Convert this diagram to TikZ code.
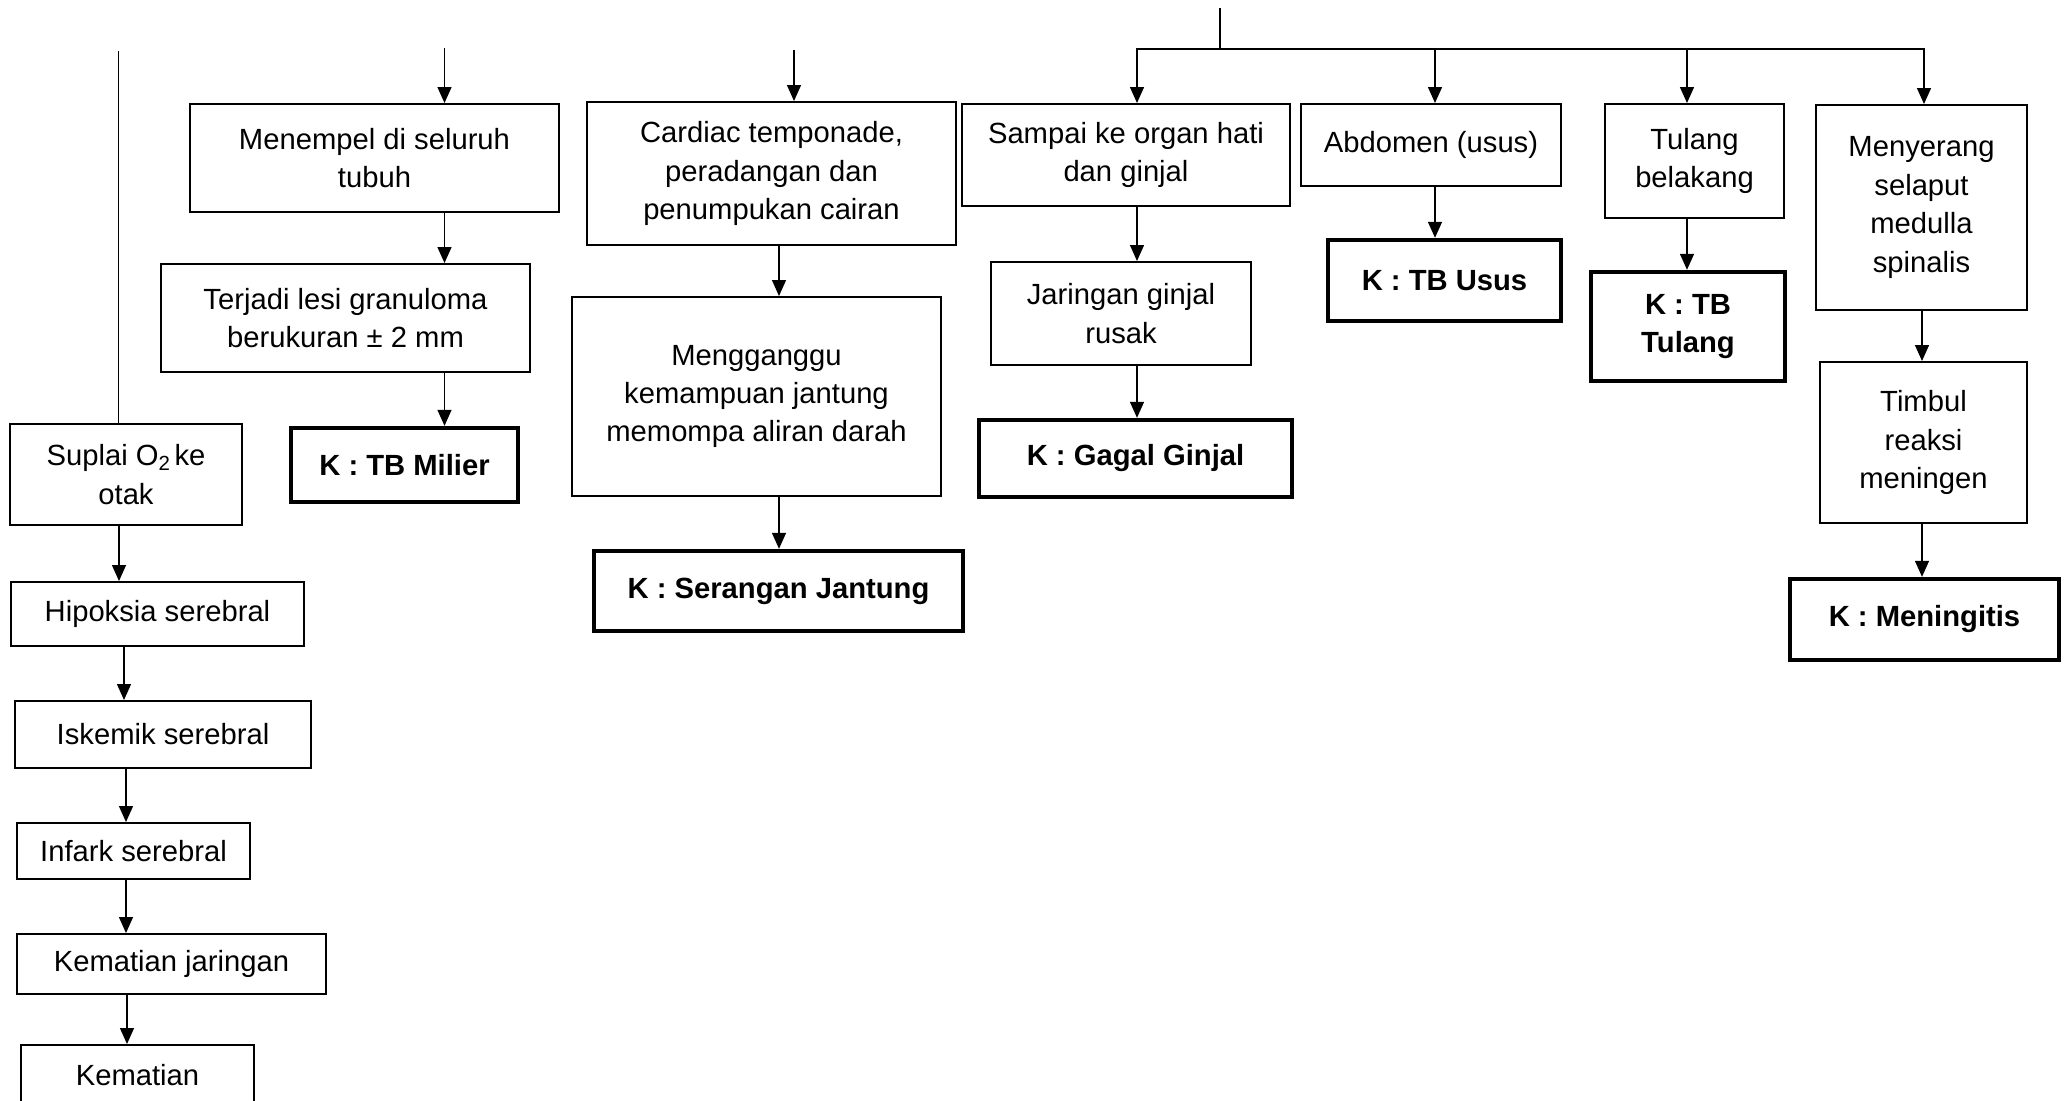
\documentclass[tikz,border=0pt]{standalone}
\usepackage{fontspec}
\setmainfont{Liberation Sans}
\usetikzlibrary{arrows.meta}
\newcommand{\dfont}{\fontsize{14.6}{19.2}\selectfont}
\begin{document}
\begin{tikzpicture}[x=0.5pt,y=-0.5pt,
  box/.style={draw, line width=1pt, inner sep=0pt, align=center, font=\dfont},
  kbox/.style={box, line width=2.2pt, font=\dfont\bfseries},
  arr/.style={line width=0.7pt, -{Triangle[length=8pt,width=7pt]}},
  ln/.style={line width=0.7pt}]
\fill[white] (0,0) rectangle (2069,1100);
\useasboundingbox (0,0) rectangle (2069,1100);

% left column
\node[box, minimum width=116pt, minimum height=50.5pt] (suplai) at (126,474.5) {Suplai O\textsubscript{2}\hspace{0.12em}ke\\otak};
\node[box, minimum width=146.5pt, minimum height=32pt] (hip) at (157.5,614) {Hipoksia serebral};
\node[box, minimum width=148pt, minimum height=33.5pt] (isk) at (163,734.5) {Iskemik serebral};
\node[box, minimum width=116.5pt, minimum height=28pt] (inf) at (133.5,851) {Infark serebral};
\node[box, minimum width=154.5pt, minimum height=30pt] (kj) at (171.5,964) {Kematian jaringan};
\node[box, minimum width=116.5pt, minimum height=30pt] (kem) at (137.5,1075) {Kematian};

% Menempel column
\node[box, minimum width=184.5pt, minimum height=54pt] (men) at (374.5,158) {Menempel di seluruh\\tubuh};
\node[box, minimum width=184.5pt, minimum height=54pt] (ter) at (345.5,318) {Terjadi lesi granuloma\\berukuran ± 2 mm};
\node[kbox, minimum width=113.5pt, minimum height=37pt] (mil) at (404.5,465) {K : TB Milier};

% Cardiac column
\node[box, minimum width=184.5pt, minimum height=71.5pt] (car) at (771.5,173.5) {Cardiac temponade,\\peradangan dan\\penumpukan cairan};
\node[box, minimum width=184.5pt, minimum height=99.5pt] (meng) at (756.5,396.5) {Mengganggu\\kemampuan jantung\\memompa aliran darah};
\node[kbox, minimum width=184.5pt, minimum height=40pt] (ser) at (778.5,591) {K : Serangan Jantung};

% tree branches
\node[box, minimum width=164pt, minimum height=51pt] (samp) at (1126,155) {Sampai ke organ hati\\dan ginjal};
\node[box, minimum width=130pt, minimum height=51.5pt] (jar) at (1121,313.5) {Jaringan ginjal\\rusak};
\node[kbox, minimum width=156.5pt, minimum height=38.5pt] (gag) at (1135.5,458.5) {K : Gagal Ginjal};

\node[box, minimum width=130pt, minimum height=41pt] (abd) at (1431,145) {Abdomen (usus)};
\node[kbox, minimum width=116.5pt, minimum height=40.5pt] (usus) at (1444.5,280.5) {K : TB Usus};

\node[box, minimum width=89.5pt, minimum height=57pt] (tul) at (1694.5,161) {Tulang\\belakang};
\node[kbox, minimum width=97pt, minimum height=54.5pt] (tbt) at (1688,326.5) {K : TB\\Tulang};

\node[box, minimum width=105.5pt, minimum height=102.5pt] (meny) at (1921.5,207.5) {Menyerang\\selaput\\medulla\\spinalis};
\node[box, minimum width=103.5pt, minimum height=80.5pt] (tim) at (1923.5,442.5) {Timbul\\reaksi\\meningen};
\node[kbox, minimum width=134.5pt, minimum height=40.5pt] (mening) at (1924.5,619.5) {K : Meningitis};

% connectors: left column
\coordinate (t1) at (118.5,51);
\draw[ln] (t1) -- (t1 |- suplai.north);
\coordinate (xa) at (119,0);
\draw[arr] (suplai.south -| xa) -- (hip.north -| xa);
\coordinate (xb) at (124,0);
\draw[arr] (hip.south -| xb) -- (isk.north -| xb);
\coordinate (xc) at (126,0);
\draw[arr] (isk.south -| xc) -- (inf.north -| xc);
\draw[arr] (inf.south -| xc) -- (kj.north -| xc);
\coordinate (xd) at (127,0);
\draw[arr] (kj.south -| xd) -- (kem.north -| xd);

% Menempel column
\coordinate (t2) at (444.5,48);
\draw[arr] (t2) -- (t2 |- men.north);
\draw[arr] (men.south -| t2) -- (ter.north -| t2);
\draw[arr] (ter.south -| t2) -- (mil.north -| t2);

% Cardiac column
\coordinate (t3) at (794,50);
\draw[arr] (t3) -- (t3 |- car.north);
\coordinate (xe) at (779,0);
\draw[arr] (car.south -| xe) -- (meng.north -| xe);
\draw[arr] (meng.south -| xe) -- (ser.north -| xe);

% tree
\coordinate (t4) at (1220,8);
\coordinate (h) at (1220,49);
\coordinate (hl) at (1137,49);
\coordinate (hr) at (1924,49);
\coordinate (hu) at (1435,49);
\coordinate (ht) at (1687,49);
\draw[ln] (t4) -- (h);
\draw[arr] (h) -- (hl) -- (hl |- samp.north);
\draw[arr] (h) -- (hr) -- (hr |- meny.north);
\draw[arr] (samp.south -| hl) -- (jar.north -| hl);
\draw[arr] (jar.south -| hl) -- (gag.north -| hl);
\draw[arr] (hu) -- (hu |- abd.north);
\draw[arr] (abd.south -| hu) -- (usus.north -| hu);
\draw[arr] (ht) -- (ht |- tul.north);
\draw[arr] (tul.south -| ht) -- (tbt.north -| ht);
\coordinate (xm) at (1922,0);
\draw[arr] (meny.south -| xm) -- (tim.north -| xm);
\draw[arr] (tim.south -| xm) -- (mening.north -| xm);
\end{tikzpicture}
\end{document}
